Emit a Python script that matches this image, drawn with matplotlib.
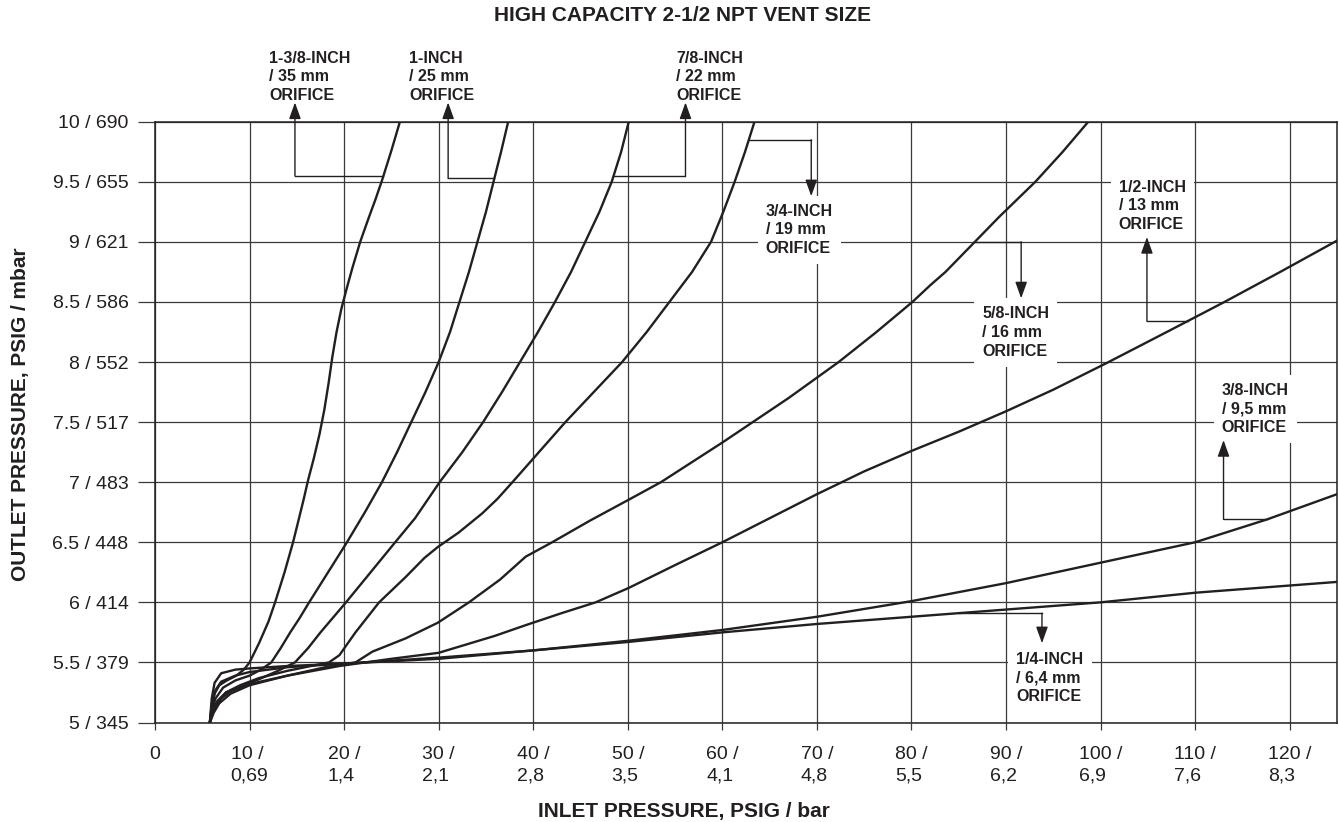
import matplotlib.pyplot as plt
import numpy as np

plt.rcParams['font.family'] = ['Liberation Sans', 'DejaVu Sans']

INK = '#231f20'
GRID = '#3a3a3a'

# inlet psig (x) / outlet psig (y) for each orifice
inlet_1_3_8 = [5.8, 6.0, 6.3, 6.8, 7.6, 8.6, 9.4, 10.0, 11.0, 12.0, 12.7, 13.7, 14.6, 15.2,
               15.7, 16.2, 16.8, 17.4, 17.9, 18.35, 18.75, 19.2, 19.7, 20.3, 20.9, 21.7,
               22.6, 23.3, 24.0, 25.0, 25.9]
outlet_1_3_8 = [5.0, 5.12, 5.24, 5.31, 5.35, 5.39, 5.44, 5.5, 5.66, 5.84, 6.0, 6.25, 6.5, 6.69,
                6.85, 7.02, 7.2, 7.4, 7.6, 7.82, 8.04, 8.25, 8.44, 8.62, 8.79, 9.0,
                9.2, 9.35, 9.51, 9.76, 10.0]

inlet_1 = [5.8, 6.0, 6.4, 7.2, 8.5, 10.0, 11.2, 12.3, 13.3, 14.3, 15.3, 16.3, 18.3, 20.3,
           22.2, 24.0, 25.6, 27.1, 28.6, 30.0, 31.2, 32.2, 33.2, 34.1, 35.0, 35.8, 36.6,
           37.35]
outlet_1 = [5.0, 5.1, 5.2, 5.29, 5.35, 5.39, 5.44, 5.5, 5.62, 5.75, 5.87, 6.0, 6.25, 6.5,
            6.75, 7.0, 7.25, 7.5, 7.75, 8.0, 8.25, 8.5, 8.75, 9.0, 9.25, 9.5, 9.75, 10.0]

inlet_7_8 = [5.8, 6.1, 6.6, 7.5, 9.0, 11.0, 13.0, 14.8, 16.2, 17.5, 20.2, 22.8, 25.4, 27.5,
             30.1, 32.5, 34.7, 36.7, 38.6, 40.5, 42.3, 44.0, 45.5, 47.0, 48.3, 49.3, 50.1]
outlet_7_8 = [5.0, 5.1, 5.18, 5.25, 5.3, 5.36, 5.43, 5.5, 5.62, 5.75, 6.0, 6.25, 6.5, 6.7,
              7.0, 7.25, 7.5, 7.75, 8.0, 8.25, 8.5, 8.75, 9.0, 9.25, 9.5, 9.75, 10.0]

inlet_3_4 = [5.8, 6.1, 6.5, 7.5, 9.0, 11.0, 14.0, 16.5, 18.4, 19.5, 21.2, 23.7, 26.5, 28.5,
             29.9, 31.0, 32.1, 34.6, 36.2, 37.8, 40.6, 43.4, 46.4, 49.4, 52.0, 54.4, 56.8,
             58.8, 60.1, 61.3, 62.4, 63.4]
outlet_3_4 = [5.0, 5.08, 5.16, 5.25, 5.31, 5.37, 5.43, 5.47, 5.5, 5.56, 5.75, 6.0, 6.21, 6.37,
              6.46, 6.52, 6.58, 6.74, 6.86, 7.0, 7.25, 7.5, 7.75, 8.0, 8.25, 8.5, 8.75,
              9.0, 9.25, 9.5, 9.75, 10.0]

inlet_5_8 = [5.8, 6.2, 6.8, 8.0, 10.0, 14.0, 18.0, 21.2, 23.0, 26.5, 29.9, 33.2, 36.5, 39.2,
             42.0, 46.0, 50.0, 53.5, 60.0, 67.0, 72.3, 76.3, 80.1, 82.0, 83.6, 86.7, 89.3,
             93.1, 96.0, 98.7]
outlet_5_8 = [5.0, 5.08, 5.16, 5.24, 5.31, 5.39, 5.46, 5.5, 5.59, 5.7, 5.83, 6.0, 6.19, 6.38,
              6.5, 6.68, 6.85, 7.0, 7.33, 7.7, 8.0, 8.25, 8.5, 8.64, 8.75, 9.0, 9.21,
              9.5, 9.75, 10.0]

inlet_1_2 = [5.8, 6.3, 7.0, 8.0, 10.0, 14.0, 19.5, 25.0, 30.0, 35.9, 39.2, 43.0, 46.6, 50.1,
             55.0, 60.0, 65.0, 70.0, 75.0, 80.0, 85.0, 90.0, 95.0, 100.6, 107.0, 113.1,
             119.0, 125.0]
outlet_1_2 = [5.0, 5.12, 5.2, 5.26, 5.32, 5.39, 5.47, 5.53, 5.58, 5.72, 5.81, 5.91, 6.0, 6.12,
              6.31, 6.5, 6.7, 6.9, 7.09, 7.26, 7.42, 7.59, 7.77, 7.99, 8.25, 8.5,
              8.75, 9.01]

inlet_3_8 = [5.8, 6.0, 6.4, 7.0, 8.5, 10.0, 14.0, 20.0, 30.0, 40.0, 50.0, 60.0, 70.0, 80.0,
             90.0, 100.0, 110.0, 117.6, 125.0]
outlet_3_8 = [5.0, 5.15, 5.27, 5.34, 5.39, 5.42, 5.46, 5.49, 5.54, 5.6, 5.68, 5.77, 5.88, 6.01,
              6.16, 6.33, 6.5, 6.69, 6.9]

inlet_1_4 = [5.8, 6.0, 6.3, 7.0, 8.5, 10.0, 14.0, 20.0, 30.0, 40.0, 50.0, 60.0, 70.0, 80.0,
             90.0, 100.0, 110.0, 125.0]
outlet_1_4 = [5.0, 5.2, 5.33, 5.41, 5.44, 5.45, 5.47, 5.49, 5.53, 5.6, 5.67, 5.75, 5.82, 5.88,
              5.94, 6.0, 6.08, 6.17]

orifice_labels = ['1-3/8-INCH\n/ 35 mm\nORIFICE', '1-INCH\n/ 25 mm\nORIFICE',
                  '7/8-INCH\n/ 22 mm\nORIFICE', '3/4-INCH\n/ 19 mm\nORIFICE',
                  '5/8-INCH\n/ 16 mm\nORIFICE', '1/2-INCH\n/ 13 mm\nORIFICE',
                  '3/8-INCH\n/ 9,5 mm\nORIFICE', '1/4-INCH\n/ 6,4 mm\nORIFICE']

x_ticks = [0, 10, 20, 30, 40, 50, 60, 70, 80, 90, 100, 110, 120]
x_tick_labels = ['0', '10 /\n0,69', '20 /\n1,4', '30 /\n2,1', '40 /\n2,8', '50 /\n3,5',
                 '60 /\n4,1', '70 /\n4,8', '80 /\n5,5', '90 /\n6,2', '100 /\n6,9',
                 '110 /\n7,6', '120 /\n8,3']
y_ticks = [5, 5.5, 6, 6.5, 7, 7.5, 8, 8.5, 9, 9.5, 10]
y_tick_labels = ['5 / 345', '5.5 / 379', '6 / 414', '6.5 / 448', '7 / 483', '7.5 / 517',
                 '8 / 552', '8.5 / 586', '9 / 621', '9.5 / 655', '10 / 690']

curves = [(inlet_1_3_8, outlet_1_3_8), (inlet_1, outlet_1), (inlet_7_8, outlet_7_8),
          (inlet_3_4, outlet_3_4), (inlet_5_8, outlet_5_8), (inlet_1_2, outlet_1_2),
          (inlet_3_8, outlet_3_8), (inlet_1_4, outlet_1_4)]

# callout layout: text left x, text centre y, elbow x, leader level y, arrow tip y
callouts = [(12.1, 10.375, 14.8, 9.55, 10.16),
            (26.9, 10.375, 31.0, 9.53, 10.16),
            (55.1, 10.375, 56.1, 9.55, 10.16),
            (64.6, 9.10, 69.4, 9.85, 9.38),
            (87.5, 8.245, 91.6, 9.0, 8.53),
            (101.9, 9.30, 104.9, 8.34, 9.04),
            (112.8, 7.61, 113.0, 6.69, 7.35),
            (91.1, 5.37, 93.8, 5.91, 5.66)]

fig = plt.figure(figsize=(13.39, 8.22), dpi=100)
ax = fig.add_axes([155 / 1339, 1 - 722.5 / 822, 1182 / 1339, 600.8 / 822])

for xs, ys in curves:
    ax.plot(xs, ys, color=INK, lw=1.7, zorder=2, solid_joinstyle='round')

for (tx, ty, bx, ly, tip), label, (xs, ys) in zip(callouts, orifice_labels, curves):
    x0 = np.interp(ly, ys, xs)
    ax.plot([x0, bx], [ly, ly], color=INK, lw=1.0, zorder=4, clip_on=False)
    ax.annotate('', xy=(bx, tip), xytext=(bx, ly), annotation_clip=False, zorder=4,
                arrowprops=dict(arrowstyle='-|>,head_length=1.0,head_width=0.36',
                                color=INK, lw=1.0, shrinkA=0, shrinkB=0))
    ax.text(tx, ty, label, ha='left', va='center', fontsize=11.5, fontweight='bold',
            color=INK, linespacing=1.3, zorder=3,
            bbox=dict(boxstyle='square,pad=0.5', fc='white', ec='none'))

ax.set_xlim(0, 125)
ax.set_ylim(5, 10)
ax.set_xticks(x_ticks)
ax.set_xticklabels(x_tick_labels)
ax.set_yticks(y_ticks)
ax.set_yticklabels(y_tick_labels)
for lab in ax.get_xticklabels():
    lab.set_multialignment('left')
    lab.set_linespacing(1.3)
ax.tick_params(direction='out', width=0.9, color=GRID, labelsize=14, labelcolor=INK)
ax.tick_params(axis='x', length=5, pad=12)
ax.tick_params(axis='y', length=12, pad=7)
ax.grid(True, color=GRID, lw=0.9)
ax.set_axisbelow(True)
for s in ax.spines.values():
    s.set_color(INK)
    s.set_linewidth(1.1)

fig.text(682 / 1339, 1 - 15.5 / 822, 'HIGH CAPACITY 2-1/2 NPT VENT SIZE', ha='center',
         va='center', fontsize=15, fontweight='bold', color=INK)
fig.text(684 / 1339, 1 - 811 / 822, 'INLET PRESSURE, PSIG / bar', ha='center',
         va='center', fontsize=15, fontweight='bold', color=INK)
fig.text(20.5 / 1339, 1 - 414 / 822, 'OUTLET PRESSURE, PSIG / mbar', ha='center',
         va='center', rotation=90, fontsize=15, fontweight='bold', color=INK)

fig.savefig('out.png', dpi=100)
